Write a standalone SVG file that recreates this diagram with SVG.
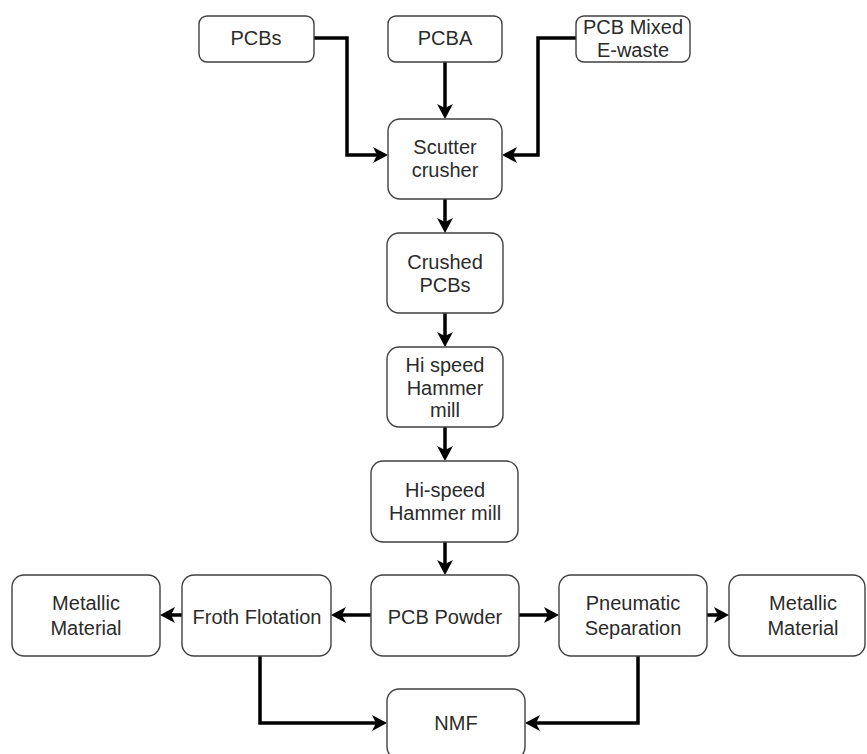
<svg xmlns="http://www.w3.org/2000/svg" width="867" height="754" viewBox="0 0 867 754">
<style>
.box{fill:#ffffff;stroke:#404040;stroke-width:1.4}
.t{font-family:"Liberation Sans",Arial,sans-serif;font-size:20px;fill:#2b2b2b;text-anchor:middle;dominant-baseline:central}
.c{fill:none;stroke:#000000;stroke-width:3.5;marker-end:url(#ah)}
</style>
<defs>
<marker id="ah" markerUnits="userSpaceOnUse" markerWidth="16" markerHeight="16" viewBox="0 0 16 16" refX="4" refY="8" orient="auto">
<path d="M0,0 L15,8 L0,16 L4,8 z" fill="#000000"/>
</marker>
</defs>
<rect width="867" height="754" fill="#ffffff"/>
<g id="connectors">
<path class="c" d="M314,38 H347 V155 H377"/>
<path class="c" d="M445,62 V108"/>
<path class="c" d="M576,38 H538 V155 H513"/>
<path class="c" d="M445,199 V222"/>
<path class="c" d="M445,313 V336"/>
<path class="c" d="M445,427 V450"/>
<path class="c" d="M445,542 V564"/>
<path class="c" d="M371,615 H342"/>
<path class="c" d="M182,615 H171"/>
<path class="c" d="M519,615 H548"/>
<path class="c" d="M707,615 H718"/>
<path class="c" d="M260,656 V723 H376"/>
<path class="c" d="M638,656 V723 H536"/>
</g>
<g id="pcbs"><rect class="box" x="199" y="16" width="115" height="46" rx="8"/><text class="t" x="256" y="38">PCBs</text></g>
<g id="pcba"><rect class="box" x="388" y="16" width="114" height="46" rx="8"/><text class="t" x="445" y="38">PCBA</text></g>
<g id="pcbmixed"><rect class="box" x="576" y="16" width="114" height="46" rx="8"/><text class="t" x="633" y="27">PCB Mixed</text><text class="t" x="633" y="50">E-waste</text></g>
<g id="scutter"><rect class="box" x="388" y="119" width="114" height="80" rx="12"/><text class="t" x="445" y="147">Scutter</text><text class="t" x="445" y="170">crusher</text></g>
<g id="crushed"><rect class="box" x="387" y="233" width="116" height="80" rx="12"/><text class="t" x="445" y="262">Crushed</text><text class="t" x="445" y="285">PCBs</text></g>
<g id="hispeed1"><rect class="box" x="387" y="347" width="116" height="80" rx="12"/><text class="t" x="445" y="365">Hi speed</text><text class="t" x="445" y="388">Hammer</text><text class="t" x="445" y="410">mill</text></g>
<g id="hispeed2"><rect class="box" x="371" y="461" width="147" height="81" rx="12"/><text class="t" x="445" y="490">Hi-speed</text><text class="t" x="445" y="513">Hammer mill</text></g>
<g id="powder"><rect class="box" x="371" y="575" width="148" height="81" rx="12"/><text class="t" x="445" y="617">PCB Powder</text></g>
<g id="froth"><rect class="box" x="182" y="575" width="149" height="81" rx="12"/><text class="t" x="257" y="617">Froth Flotation</text></g>
<g id="metal-left"><rect class="box" x="12" y="575" width="148" height="81" rx="12"/><text class="t" x="86" y="603">Metallic</text><text class="t" x="86" y="628">Material</text></g>
<g id="pneumatic"><rect class="box" x="559" y="575" width="148" height="81" rx="12"/><text class="t" x="633" y="603">Pneumatic</text><text class="t" x="633" y="628">Separation</text></g>
<g id="metal-right"><rect class="box" x="729" y="575" width="136" height="81" rx="12"/><text class="t" x="803" y="603">Metallic</text><text class="t" x="803" y="628">Material</text></g>
<g id="nmf"><rect class="box" x="387" y="689" width="138" height="70" rx="12"/><text class="t" x="456" y="723">NMF</text></g>
</svg>
